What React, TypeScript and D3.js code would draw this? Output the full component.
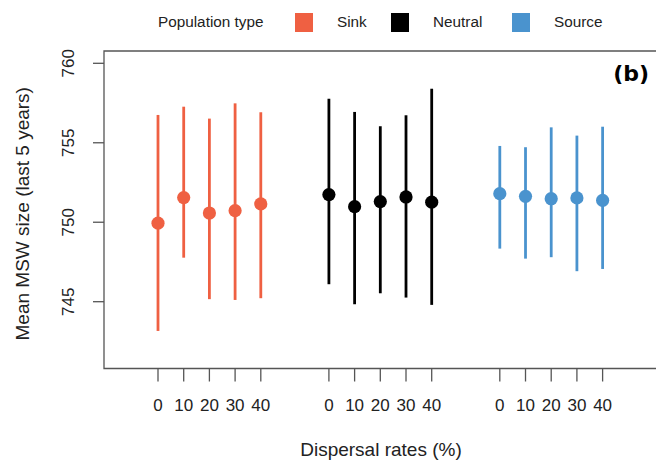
import React from "react";
import * as d3 from "d3";

const groups = ["Sink", "Neutral", "Source"];
const groupColors = ["#EF6042", "#000000", "#4A93CE"];
const rates = [0, 10, 20, 30, 40];

const sinkMean = [749.94, 751.55, 750.58, 750.73, 751.15];
const sinkUpper = [756.75, 757.27, 756.52, 757.48, 756.92];
const sinkLower = [743.16, 747.77, 745.16, 745.11, 745.22];

const neutralMean = [751.74, 750.98, 751.3, 751.59, 751.26];
const neutralUpper = [757.77, 756.94, 756.04, 756.73, 758.4];
const neutralLower = [746.1, 744.84, 745.53, 745.26, 744.8];

const sourceMean = [751.8, 751.63, 751.48, 751.53, 751.38];
const sourceUpper = [754.8, 754.72, 755.97, 755.45, 756.01];
const sourceLower = [748.34, 747.71, 747.8, 746.92, 747.06];

const yTicks = [745, 750, 755, 760];

const series = [
  { mean: sinkMean, upper: sinkUpper, lower: sinkLower },
  { mean: neutralMean, upper: neutralUpper, lower: neutralLower },
  { mean: sourceMean, upper: sourceUpper, lower: sourceLower },
];

const FONT = "'Liberation Sans', Arial, Helvetica, sans-serif";
const GROUP_GAP = 6.65;

export default function App() {
  const W = 656;
  const H = 461;
  const boxLeft = 104;
  const boxTop = 51;
  const boxBottom = 368.5;
  const boxRight = 700;

  const y = d3.scaleLinear().domain([760, 745]).range([63.3, 301.7]);
  const x = d3.scaleLinear().domain([0, 1]).range([158, 183.7]);
  const pos = (g: number, j: number) => x(g * GROUP_GAP + j);

  return (
    <svg
      width={W}
      height={H}
      style={{ position: "fixed", left: 0, top: 0, background: "#fff" }}
      fontFamily={FONT}
    >
      <rect x={0} y={0} width={W} height={H} fill="#fff" />
      {/* legend */}
      <text x={158} y={26.5} fontSize={15.3} fill="#222">
        Population type
      </text>
      {groups.map((g, i) => {
        const sx = [295, 391, 512][i];
        return (
          <g key={g}>
            <rect x={sx} y={13} width={18} height={19} fill={groupColors[i]} />
            <text x={sx + 42} y={27} fontSize={15.3} fill="#222">
              {g}
            </text>
          </g>
        );
      })}

      {/* box */}
      <path
        d={`M${boxRight},${boxTop}H${boxLeft}V${boxBottom}H${boxRight}`}
        fill="none"
        stroke="#555"
        strokeWidth={1.3}
      />

      {/* y axis */}
      {yTicks.map((t) => (
        <g key={t}>
          <line x1={93} x2={boxLeft} y1={y(t)} y2={y(t)} stroke="#555" strokeWidth={1.3} />
          <text
            transform={`translate(74,${y(t)}) rotate(-90)`}
            textAnchor="middle"
            fontSize={17}
            fill="#222"
          >
            {t}
          </text>
        </g>
      ))}
      <text
        transform={`translate(29,${(boxTop + boxBottom) / 2 + 4}) rotate(-90)`}
        textAnchor="middle"
        fontSize={19}
        fill="#222"
      >
        Mean MSW size (last 5 years)
      </text>

      {/* x axis */}
      {groups.map((g, gi) =>
        rates.map((r, j) => (
          <g key={g + r}>
            <line
              x1={pos(gi, j)}
              x2={pos(gi, j)}
              y1={boxBottom}
              y2={381.5}
              stroke="#555"
              strokeWidth={1.3}
            />
            <text x={pos(gi, j)} y={410.5} textAnchor="middle" fontSize={17} fill="#222">
              {r}
            </text>
          </g>
        ))
      )}
      <text x={381} y={456} textAnchor="middle" fontSize={19} fill="#222">
        Dispersal rates (%)
      </text>

      {/* error bars and points */}
      {series.map((s, gi) =>
        rates.map((r, j) => (
          <g key={gi + "-" + r}>
            <line
              x1={pos(gi, j)}
              x2={pos(gi, j)}
              y1={y(s.upper[j])}
              y2={y(s.lower[j])}
              stroke={groupColors[gi]}
              strokeWidth={2.8}
            />
            <circle cx={pos(gi, j)} cy={y(s.mean[j])} r={6.6} fill={groupColors[gi]} />
          </g>
        ))
      )}

      <text
        x={649}
        y={81}
        textAnchor="end"
        fontSize={22}
        fontWeight="bold"
        fontFamily="'DejaVu Sans', sans-serif"
        fill="#000"
      >
        (b)
      </text>
    </svg>
  );
}
